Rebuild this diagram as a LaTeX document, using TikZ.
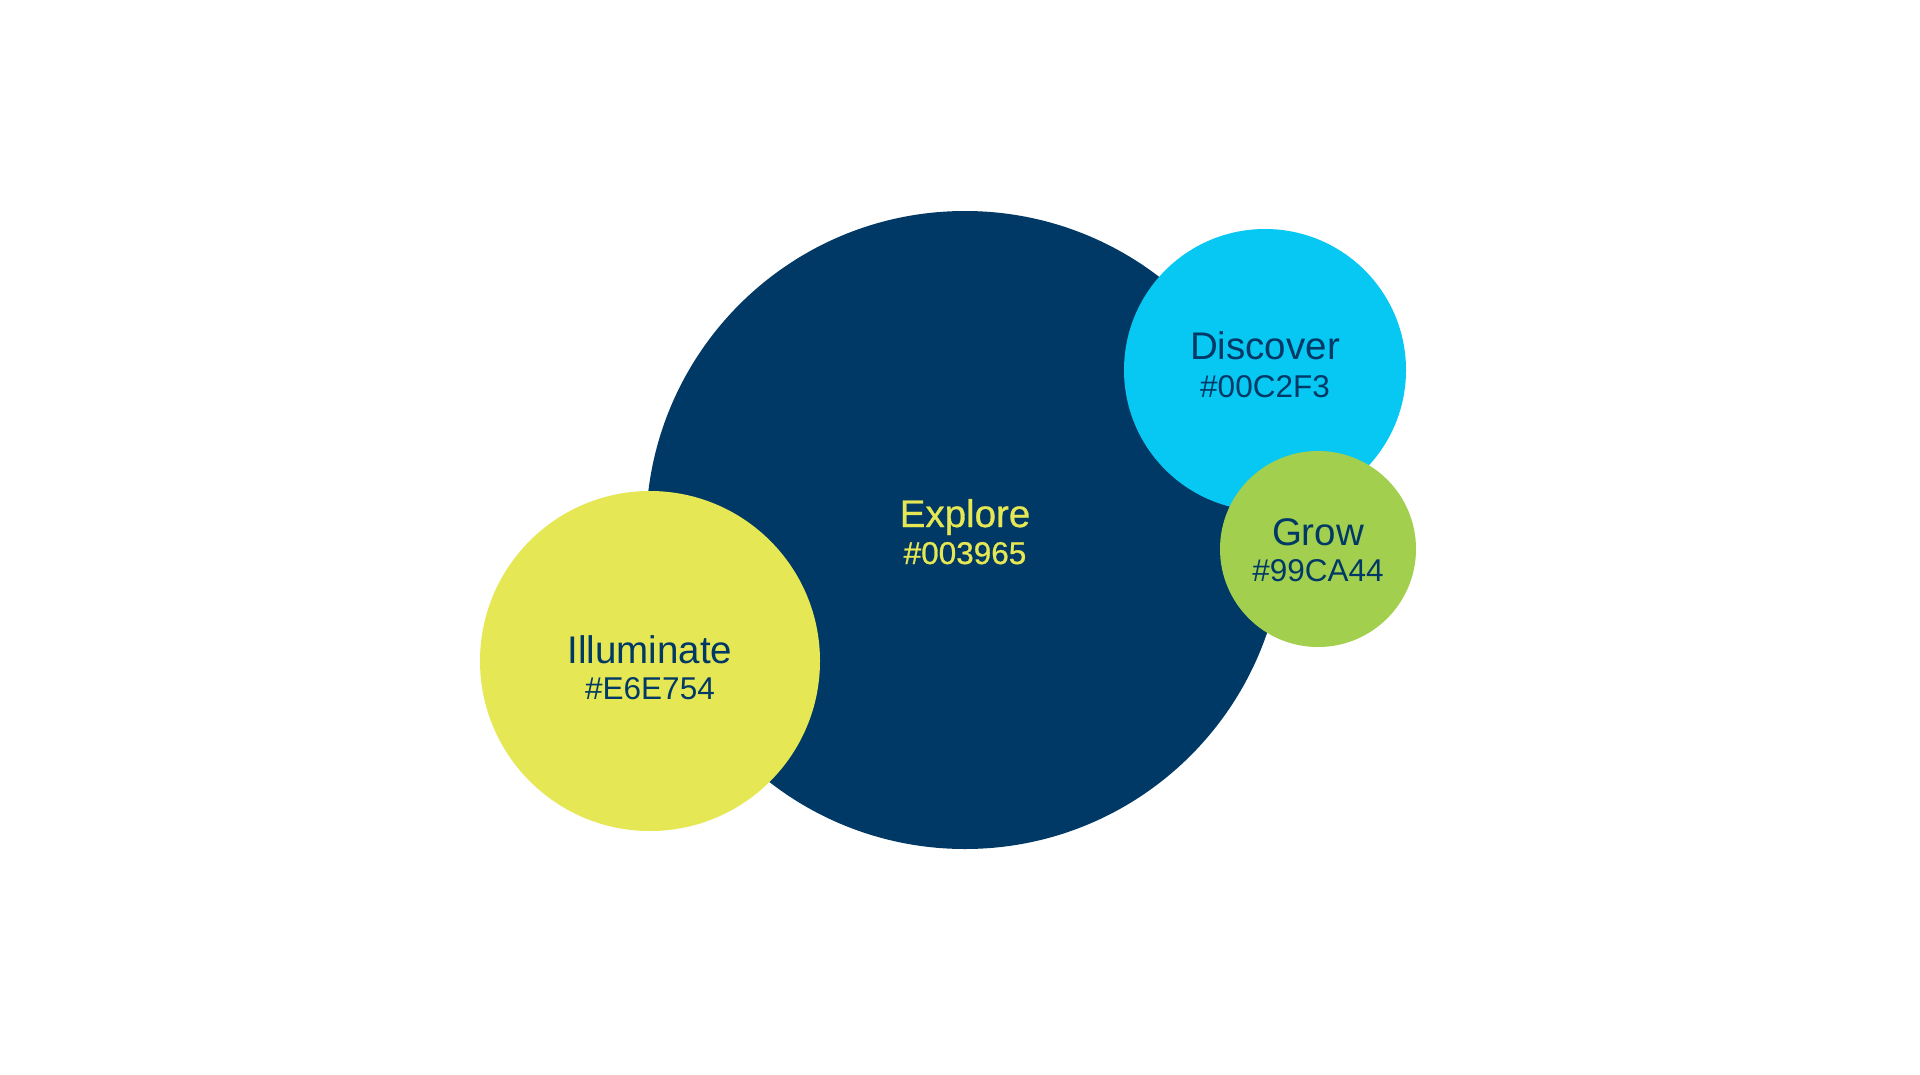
\documentclass[tikz,border=0pt]{standalone}
\usepackage{fontspec}
\setmainfont{Liberation Sans}
\newfontfamily\mediumsans[FakeBold=0.8]{Liberation Sans}
\usepackage{tikz}
\usetikzlibrary{positioning}
\definecolor{exploreblue}  {HTML}{003965}
\definecolor{discovercyan} {HTML}{00C2F3}
\definecolor{growgreen}    {HTML}{99CA44}
\definecolor{illumyellow}  {HTML}{E6E754}
\definecolor{growfill}     {HTML}{A3CF4E}
\definecolor{discoverfill} {HTML}{06C8F3}

\begin{document}
\begin{tikzpicture}[x=1pt,y=-1pt,
	bubble/.style={circle,inner sep=0pt,draw=none},
	title/.style={anchor=base,inner sep=0pt,font=\fontsize{38.5}{46}\selectfont},
	hexcode/.style={anchor=base,inner sep=0pt,font=\fontsize{31.5}{38}\selectfont}]
	\fill[white] (0,0) rectangle (1920,1074);
	\useasboundingbox (0,0) rectangle (1920,1074);
	% circles, back to front
	\node[bubble,fill=exploreblue,minimum size=638pt] (explore) at (965,530) {};
	\node[bubble,fill=discoverfill,minimum size=282pt] (discover) at (1265,370) {};
	\node[bubble,fill=growfill,minimum size=196pt] (grow) at (1318,549) {};
	\node[bubble,fill=illumyellow,minimum size=340pt] (illuminate) at (650,661) {};
	% labels
	\node[title,text=illumyellow] (exploretitle) at (965,527) {\mediumsans Explore};
	\node[hexcode,text=illumyellow] (explorehex) at (965,564) {\mediumsans\#003965};
	\node[title,text=exploreblue] (discovertitle) at (1265,359) {Discover};
	\node[hexcode,text=exploreblue] (discoverhex) at (1265,397) {\#00C2F3};
	\node[title,text=exploreblue] (growtitle) at (1318,545) {Grow};
	\node[hexcode,text=exploreblue] (growhex) at (1318,581) {\#99CA44};
	\node[title,text=exploreblue] (illumtitle) at (650,663) {Illuminate};
	\node[hexcode,text=exploreblue] (illumhex) at (650,699) {\#E6E754};
\end{tikzpicture}
\end{document}
